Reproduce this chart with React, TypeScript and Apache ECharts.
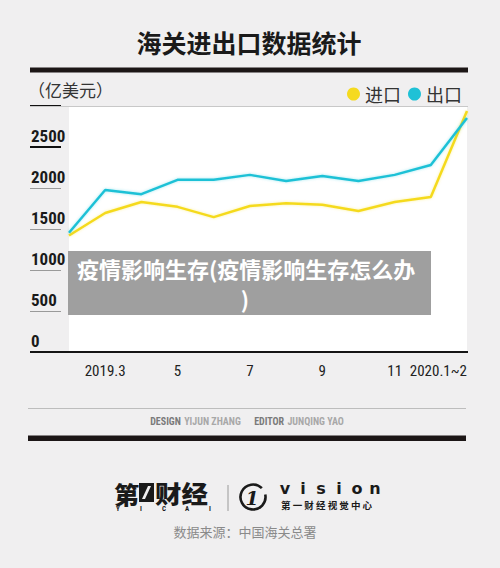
import React, { useEffect, useRef } from "react";
import * as echarts from "echarts";

const categories = ["2019.2", "2019.3", "4", "5", "6", "7", "8", "9", "10", "11", "12", "2020.1~2"];
const importValues = [1420, 1695, 1830, 1770, 1645, 1780, 1815, 1795, 1720, 1830, 1890, 2940];
const exportValues = [1455, 1975, 1925, 2100, 2100, 2160, 2085, 2145, 2085, 2160, 2280, 2855];
const seriesNames = ["进口", "出口"];
const yMax = 3000;
const yStep = 500;

const CJK = '"Noto Sans CJK SC", "Noto Sans", sans-serif';
const NARROW = '"Liberation Sans Narrow", "Roboto Condensed", Roboto, sans-serif';

export default function App() {
  const ref = useRef<HTMLDivElement>(null);
  useEffect(() => {
    if (!ref.current) return;
    const chart = echarts.init(ref.current, null, { renderer: "svg" });
    const lastIdx = categories.length - 1;
    const xData = categories.map((c, i) =>
      i === lastIdx ? { value: c, textStyle: { align: "right" } } : c
    );
    const yicai = ["Y", "I", "C", "A", "I"];
    const vision = ["v", "i", "s", "i", "o", "n"];
    const option: any = {
      animation: false,
      backgroundColor: "#f0eff0",
      grid: {
        left: 69,
        right: 33,
        top: 106,
        bottom: 216,
        show: true,
        backgroundColor: "#ffffff",
        borderWidth: 0,
      },
      legend: {
        data: seriesNames,
        right: 33,
        top: 80,
        icon: "circle",
        itemWidth: 13,
        itemHeight: 13,
        itemGap: 7,
        textStyle: { fontSize: 18, color: "#333", fontFamily: CJK },
      },
      xAxis: {
        type: "category",
        boundaryGap: false,
        data: xData,
        axisLine: { show: false },
        axisTick: { show: false },
        splitLine: { show: false },
        axisLabel: {
          interval: (index: number) => index % 2 === 1,
          showMaxLabel: true,
          hideOverlap: false,
          margin: 11,
          fontSize: 15,
          fontFamily: NARROW,
          color: "#222",
        },
      },
      yAxis: [
        {
          type: "value",
          min: 0,
          max: yMax,
          interval: yStep,
          position: "left",
          offset: 8,
          axisLine: { show: false },
          splitLine: { show: false },
          axisTick: { show: true, length: 31, lineStyle: { color: "#9a9a9a", width: 1 } },
          axisLabel: {
            align: "left",
            margin: 30,
            verticalAlign: "bottom",
            padding: [0, 0, 3, 0],
            fontSize: 17,
            fontWeight: "bold",
            fontFamily: NARROW,
            color: "#1a1a1a",
            formatter: (v: number) => (v === yMax ? "" : String(v)),
          },
        },
        {
          type: "value",
          min: 0,
          max: yMax,
          interval: 2500,
          position: "left",
          offset: 8,
          axisLine: { show: false },
          splitLine: { show: false },
          axisLabel: { show: false },
          axisTick: { show: true, length: 31, lineStyle: { color: "#111", width: 2 } },
        },
      ],
      series: [
        {
          name: seriesNames[0],
          type: "line",
          data: importValues,
          yAxisIndex: 0,
          symbol: "none",
          color: "#f5da1f",
          lineStyle: { width: 2.5, color: "#f5da1f", shadowColor: "rgba(245,218,31,0.35)", shadowBlur: 3 },
        },
        {
          name: seriesNames[1],
          type: "line",
          data: exportValues,
          yAxisIndex: 0,
          symbol: "none",
          color: "#1fc1d6",
          lineStyle: { width: 2.5, color: "#1fc1d6", shadowColor: "rgba(31,193,214,0.35)", shadowBlur: 3 },
        },
      ],
      graphic: [
        {
          type: "text",
          x: 249,
          y: 42,
          style: {
            text: "海关进出口数据统计",
            fontSize: 25,
            fontWeight: "bold",
            fontFamily: CJK,
            fill: "#1a1a1a",
            textAlign: "center",
            textVerticalAlign: "middle",
          },
        },
        { type: "rect", shape: { x: 30, y: 67.5, width: 438, height: 5 }, style: { fill: "#1c1616" } },
        {
          type: "text",
          x: 28,
          y: 89,
          style: {
            text: "（亿美元）",
            fontSize: 17,
            fontFamily: CJK,
            fill: "#333",
            textVerticalAlign: "middle",
          },
        },
        { type: "line", z: 100, shape: { x1: 30, y1: 106.5, x2: 468, y2: 106.5 }, style: { stroke: "#c8c8c8", lineWidth: 1 } },
        { type: "line", z: 100, shape: { x1: 30, y1: 352, x2: 468, y2: 352 }, style: { stroke: "#151515", lineWidth: 2 } },
        // overlay box
        { type: "rect", z: 100, shape: { x: 68, y: 251, width: 363, height: 64 }, style: { fill: "#9f9f9f" } },
        {
          type: "text",
          z: 101,
          x: 77,
          y: 268,
          style: {
            text: "疫情影响生存(疫情影响生存怎么办",
            fontSize: 22,
            fontWeight: "bold",
            fontFamily: CJK,
            fill: "#ffffff",
            textVerticalAlign: "middle",
          },
        },
        {
          type: "text",
          z: 101,
          x: 245,
          y: 298,
          style: {
            text: ")",
            fontSize: 22,
            fontWeight: "bold",
            fontFamily: CJK,
            fill: "#ffffff",
            textAlign: "center",
            textVerticalAlign: "middle",
          },
        },
        // footer
        { type: "line", shape: { x1: 28, y1: 408.5, x2: 466, y2: 408.5 }, style: { stroke: "#bdbdbd", lineWidth: 1 } },
        {
          type: "text",
          x: 247,
          y: 421,
          style: {
            text: "{a|DESIGN} {b|YIJUN ZHANG}    {a|EDITOR} {b|JUNQING YAO}",
            textAlign: "center",
            textVerticalAlign: "middle",
            rich: {
              a: { fontSize: 10, fontWeight: "bold", fontFamily: NARROW, fill: "#7a7a7a", color: "#7a7a7a" },
              b: { fontSize: 10, fontWeight: "bold", fontFamily: NARROW, fill: "#a8a8a8", color: "#a8a8a8" },
            },
          },
        },
        { type: "rect", shape: { x: 28, y: 435.5, width: 438, height: 5.5 }, style: { fill: "#1c1616" } },
        // logo: 第一财经
        {
          type: "text",
          x: 114,
          y: 493,
          scaleX: 1.05,
          style: { text: "第", fontSize: 24, fontWeight: 900, fontFamily: CJK, fill: "#1a1a1a", textVerticalAlign: "middle" },
        },
        { type: "rect", shape: { x: 139, y: 483, width: 15, height: 19 }, style: { fill: "#1a1a1a" } },
        {
          type: "polygon",
          shape: { points: [[148, 486], [151, 486], [145, 499], [142, 499]] },
          style: { fill: "#f0eff0" },
        },
        {
          type: "text",
          x: 155,
          y: 493,
          scaleX: 1.1,
          style: { text: "财经", fontSize: 24, fontWeight: 900, fontFamily: CJK, fill: "#1a1a1a", textVerticalAlign: "middle" },
        },
        ...yicai.map((ch, i) => ({
          type: "text",
          x: 118 + i * 23,
          y: 509,
          style: { text: ch, fontSize: 7, fontWeight: "bold", fontFamily: NARROW, fill: "#1a1a1a", textAlign: "center", textVerticalAlign: "middle" },
        })),
        { type: "line", shape: { x1: 228, y1: 485, x2: 228, y2: 511 }, style: { stroke: "#9a9a9a", lineWidth: 1 } },
        {
          type: "arc",
          shape: { cx: 253, cy: 497, r: 12.5, startAngle: -0.2, endAngle: 5.5 },
          style: { stroke: "#1a1a1a", lineWidth: 2.6, fill: "none" },
        },
        {
          type: "text",
          x: 252,
          y: 498,
          style: { text: "1", fontSize: 19, fontStyle: "italic", fontWeight: "bold", fontFamily: '"DejaVu Serif", serif', fill: "#1a1a1a", textAlign: "center", textVerticalAlign: "middle" },
        },
        ...vision.map((ch, i) => ({
          type: "text",
          x: 285 + i * 18,
          y: 488,
          style: { text: ch, fontSize: 16, fontWeight: "bold", fontFamily: '"DejaVu Sans", sans-serif', fill: "#1a1a1a", textAlign: "center", textVerticalAlign: "middle" },
        })),
        {
          type: "text",
          x: 281,
          y: 505,
          style: { text: "第 一 财 经 视 觉 中 心", fontSize: 9.5, fontWeight: "bold", fontFamily: CJK, fill: "#1a1a1a", textVerticalAlign: "middle" },
        },
        {
          type: "text",
          x: 245,
          y: 531,
          style: { text: "数据来源：中国海关总署", fontSize: 13, fontFamily: CJK, fill: "#8a8a8a", textAlign: "center", textVerticalAlign: "middle" },
        },
      ],
    };
    chart.setOption(option);
    return () => chart.dispose();
  }, []);
  return (
    <div
      ref={ref}
      style={{ position: "absolute", left: 0, top: 0, width: 500, height: 568 }}
    />
  );
}
